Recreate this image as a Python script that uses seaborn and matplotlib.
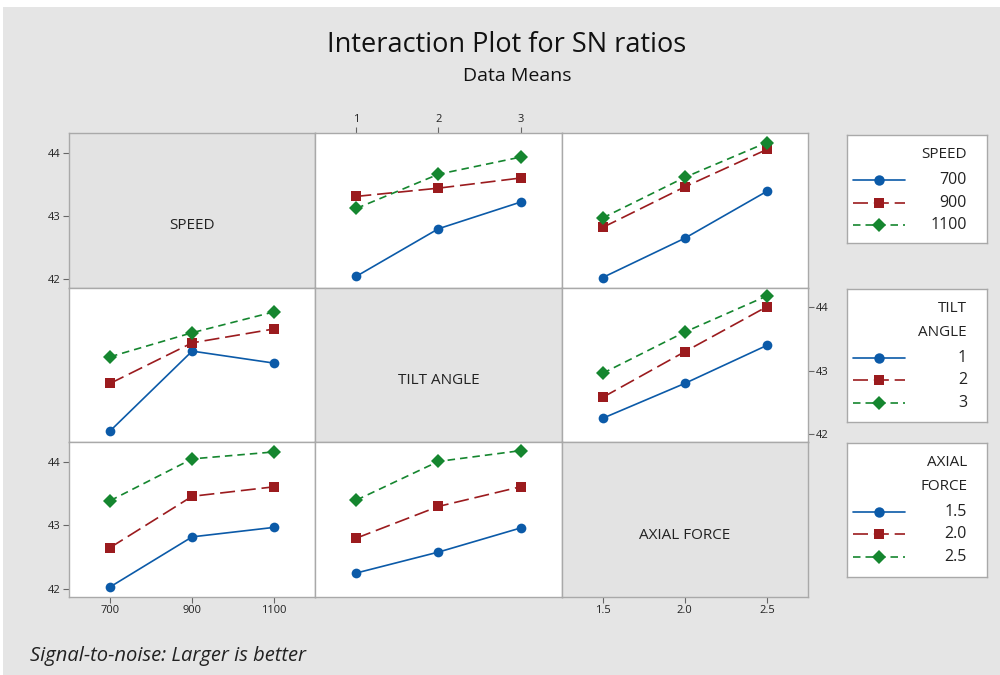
import numpy as np
import pandas as pd
import matplotlib
matplotlib.use("Agg")
import matplotlib.pyplot as plt
import seaborn as sns
from matplotlib.lines import Line2D
from matplotlib.patches import Rectangle

# ---------------- data ----------------
speed_levels = [700, 900, 1100]
tilt_levels = [1, 2, 3]
axial_levels = [1.5, 2.0, 2.5]
speed_labels = ["700", "900", "1100"]
tilt_labels = ["1", "2", "3"]
axial_labels = ["1.5", "2.0", "2.5"]
factor_names = ["SPEED", "TILT ANGLE", "AXIAL FORCE"]
legend_titles = ["SPEED", "TILT\nANGLE", "AXIAL\nFORCE"]

# mean SN ratio, rows = speed level, cols = tilt level
sn_speed_tilt = [
    [42.05, 42.80, 43.22],   # 700
    [43.31, 43.44, 43.60],   # 900
    [43.12, 43.66, 43.93],   # 1100
]
# rows = speed level, cols = axial force level
sn_speed_axial = [
    [42.03, 42.65, 43.39],   # 700
    [42.82, 43.46, 44.05],   # 900
    [42.97, 43.61, 44.16],   # 1100
]
# rows = tilt level, cols = axial force level
sn_tilt_axial = [
    [42.25, 42.80, 43.40],   # 1
    [42.58, 43.30, 44.01],   # 2
    [42.96, 43.61, 44.18],   # 3
]

# ---------------- style ----------------
sns.set_theme(style="white")
plt.rcParams["font.family"] = ["Open Sans", "DejaVu Sans"]

BG = "#e5e5e5"
DIAG = "#e3e3e3"
EDGE = "#a9a9a9"
colors = ["#0b5aa8", "#9b1b1e", "#15862f"]
markers = ["o", "s", "D"]
dash_list = ["", (9, 3.5), (4.5, 3)]

levels = [speed_levels, tilt_levels, axial_levels]
tick_labels = [speed_labels, tilt_labels, axial_labels]
xlims = [(600, 1200), (0.5, 3.5), (1.25, 2.75)]
ylim = (41.87, 44.31)


def table(i, j):
    """matrix with rows = levels of factor i (trace), cols = levels of factor j (x)."""
    key = tuple(sorted((i, j)))
    m = {(0, 1): sn_speed_tilt, (0, 2): sn_speed_axial, (1, 2): sn_tilt_axial}[key]
    m = np.array(m)
    if (i, j) != key:
        m = m.T
    return m


fig = plt.figure(figsize=(10, 6.75), dpi=100, facecolor="white")
fig.patches.append(Rectangle((0.003, 0.0), 0.997, 1 - 7 / 675, transform=fig.transFigure,
                             facecolor=BG, edgecolor="none", zorder=-10))

left, top = 69 / 1000, 133 / 675
cw = 246.3 / 1000
rh = 154.7 / 675

for r in range(3):          # row: factor used as trace (legend)
    for c in range(3):      # col: factor on x axis
        x0 = left + c * cw
        y0 = 1 - top - (r + 1) * rh
        ax = fig.add_axes([x0, y0, cw, rh])
        ax.set_xlim(*xlims[c])
        ax.set_ylim(*ylim)
        for s in ax.spines.values():
            s.set_color(EDGE)
            s.set_linewidth(1.0)
        if r == c:
            ax.set_facecolor(DIAG)
            ax.text(0.5, 0.40, factor_names[r], transform=ax.transAxes,
                    ha="center", va="center", fontsize=11, color="#222222")
        else:
            ax.set_facecolor("white")
            m = table(r, c)
            df = pd.DataFrame({
                "x": np.tile(levels[c], 3),
                "y": m.ravel(),
                "trace": np.repeat(tick_labels[r], 3),
            })
            pal = dict(zip(tick_labels[r], colors))
            mk = dict(zip(tick_labels[r], markers))
            dsh = dict(zip(tick_labels[r], dash_list))
            sns.lineplot(data=df, x="x", y="y", hue="trace", style="trace",
                         palette=pal, markers=mk, dashes=dsh, ax=ax,
                         legend=False, linewidth=1.2, markersize=7,
                         markeredgewidth=0, sort=False)
        ax.set_xlabel("")
        ax.set_ylabel("")
        ax.set_xticks([])
        ax.set_yticks([])

        # ticks alternate as in Minitab matrix layout
        tick_kw = dict(length=4, width=0.8, color="#666666", labelsize=8,
                       labelcolor="#222222", pad=2)
        if c == 0 and r in (0, 2):
            ax.set_yticks([42, 43, 44])
            ax.set_yticklabels(["42", "43", "44"])
            ax.tick_params(axis="y", left=True, labelleft=True, **tick_kw)
        if c == 2 and r == 1:
            ax.set_yticks([42, 43, 44])
            ax.set_yticklabels(["42", "43", "44"])
            ax.yaxis.tick_right()
            ax.tick_params(axis="y", right=True, labelright=True, left=False,
                           labelleft=False, **tick_kw)
        if r == 2 and c in (0, 2):
            ax.set_xticks(levels[c])
            ax.set_xticklabels(tick_labels[c])
            ax.tick_params(axis="x", bottom=True, labelbottom=True, **tick_kw)
        if r == 0 and c == 1:
            ax.set_xticks(levels[c])
            ax.set_xticklabels(tick_labels[c])
            ax.xaxis.tick_top()
            ax.tick_params(axis="x", top=True, labeltop=True, bottom=False,
                           labelbottom=False, **tick_kw)

# ---------------- legends ----------------
leg_boxes = [(847, 135, 987, 243), (847, 289, 987, 422), (847, 443, 987, 577)]
for k, (lx0, ly0, lx1, ly1) in enumerate(leg_boxes):
    lax = fig.add_axes([lx0 / 1000, 1 - ly1 / 675, (lx1 - lx0) / 1000, (ly1 - ly0) / 675])
    lax.set_facecolor("white")
    lax.set_xlim(lx0, lx1)
    lax.set_ylim(ly1, ly0)
    lax.set_xticks([])
    lax.set_yticks([])
    for s in lax.spines.values():
        s.set_color(EDGE)
        s.set_linewidth(1.0)
    title_lines = legend_titles[k].split("\n")
    ty = ly0 + 20
    for t in title_lines:
        lax.text(lx1 - 20, ty, t, ha="right", va="center", fontsize=11, color="#222222")
        ty += 23.5
    for n in range(3):
        yy = ty + n * 22.7 + 1.5
        ls = "-" if dash_list[n] == "" else (0, dash_list[n])
        h = Line2D([853, 905], [yy, yy], color=colors[n], linewidth=1.2,
                   linestyle=ls, marker=None)
        lax.add_line(h)
        lax.plot([879], [yy], marker=markers[n], color=colors[n],
                 markersize=7.5, markeredgewidth=0)
        lax.text(lx1 - 20, yy, tick_labels[k][n], ha="right", va="center",
                 fontsize=11.5, color="#222222")

# ---------------- titles ----------------
fig.text(0.507, 1 - 45 / 675, "Interaction Plot for SN ratios", ha="center", va="center",
         fontsize=19.5, color="#111111")
fig.text(0.517, 1 - 76 / 675, "Data Means", ha="center", va="center",
         fontsize=14, color="#111111")
fig.text(0.03, 1 - 656 / 675, "Signal-to-noise: Larger is better", ha="left", va="center",
         fontsize=14.5, style="italic", color="#222222")

fig.savefig("out.png", dpi=100, facecolor=fig.get_facecolor())
